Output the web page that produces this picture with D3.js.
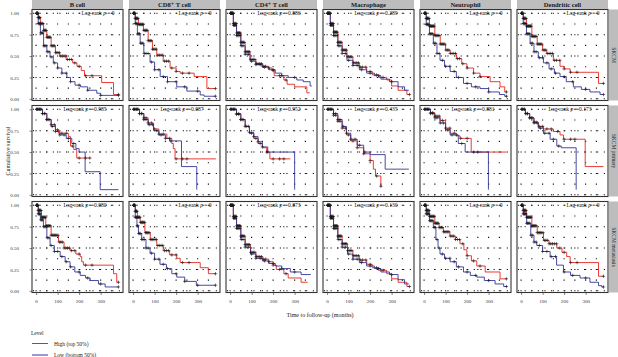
<!DOCTYPE html>
<html>
<head>
<meta charset="utf-8">
<script src="https://cdn.jsdelivr.net/npm/d3@7"></script>
<style>
  body { margin: 0; background: #fff; }
  text { font-family: "Liberation Serif", "DejaVu Serif", serif; }
  .curve { fill: none; stroke-width: 0.9; }
  .censor { stroke: #1a1a1a; stroke-width: 0.6; fill: none; }
  .grid { stroke: #000; stroke-width: 1.1; fill: none; }
  .tick text { fill: #333; font-size: 5px; }
  .tick line { stroke: #333; stroke-width: 0.6; }
</style>
</head>
<body>
<div id="wrapper"></div>
<script>
// 1. Data (step points [months, survival])

const cellTypes = ["B cell", "CD8\u207A T cell", "CD4\u207A T cell", "Macrophage", "Neutrophil", "Dendritic cell"];
const cohorts = ["SKCM", "SKCM primary", "SKCM metastasis"];
const pValues = [
  ["0", "0", "0.886", "0.289", "0", "0"],
  ["0.985", "0.087", "0.952", "0.435", "0.881", "0.173"],
  ["0.080", "0", "0.873", "0.130", "0", "0"],
];
const xTicks = [0, 100, 200, 300];
const yTicks = [0, 0.25, 0.5, 0.75, 1];
const levelNames = ["High (top 50%)", "Low (bottom 50%)"];

// SKCM
const bCell1High = [[0,1],[10,0.95],[20,0.88],[35,0.8],[50,0.72],[70,0.62],[90,0.54],[110,0.5],[140,0.46],[170,0.42],[190,0.38],[210,0.33],[225,0.27],[305,0.19],[360,0.05],[383,0.05]];
const bCell1Low = [[0,1],[10,0.88],[20,0.77],[35,0.62],[50,0.55],[65,0.49],[80,0.42],[100,0.36],[120,0.3],[143,0.25],[160,0.2],[181,0.16],[207,0.14],[240,0.1],[282,0.065],[300,0.04],[383,0.04]];
const cd81High = [[0,1],[10,0.94],[25,0.87],[48,0.8],[70,0.68],[90,0.58],[110,0.51],[140,0.44],[172,0.36],[200,0.32],[219,0.3],[284,0.26],[343,0.12],[383,0.12]];
const cd81Low = [[0,1],[10,0.88],[20,0.76],[33,0.65],[50,0.53],[79,0.43],[100,0.34],[126,0.26],[160,0.2],[203,0.14],[250,0.09],[312,0.045],[330,0.03],[383,0.03]];
const cd41High = [[0,1],[15,0.88],[30,0.77],[50,0.66],[70,0.55],[93,0.46],[120,0.41],[150,0.38],[180,0.36],[195,0.33],[205,0.27],[250,0.22],[265,0.17],[300,0.14],[357,0.07],[370,0.07]];
const cd41Low = [[0,1],[15,0.86],[30,0.74],[50,0.62],[70,0.52],[93,0.44],[120,0.4],[150,0.37],[180,0.34],[210,0.3],[240,0.27],[270,0.25],[310,0.22],[340,0.2],[372,0.15],[380,0.15]];
const mac1High = [[0,1],[15,0.88],[30,0.78],[50,0.66],[70,0.57],[92,0.49],[120,0.42],[150,0.37],[184,0.32],[210,0.28],[240,0.25],[277,0.22],[300,0.15],[330,0.1],[371,0.05],[383,0.05]];
const mac1Low = [[0,1],[15,0.86],[30,0.74],[50,0.62],[70,0.53],[92,0.45],[120,0.39],[150,0.34],[184,0.3],[220,0.27],[250,0.23],[290,0.2],[330,0.14],[360,0.1],[380,0.1]];
const neu1High = [[0,1],[10,0.94],[25,0.85],[50,0.74],[75,0.64],[100,0.57],[121,0.53],[150,0.47],[175,0.41],[199,0.36],[230,0.3],[260,0.26],[307,0.2],[353,0.14],[375,0.08],[385,0.08]];
const neu1Low = [[0,1],[10,0.87],[25,0.76],[43,0.65],[60,0.53],[74,0.45],[95,0.38],[121,0.32],[150,0.25],[183,0.18],[220,0.14],[260,0.12],[300,0.08],[350,0.05],[375,0.03],[385,0.03]];
const den1High = [[0,1],[10,0.94],[25,0.85],[50,0.73],[75,0.64],[100,0.57],[119,0.53],[150,0.45],[181,0.38],[200,0.35],[228,0.31],[360,0.18],[383,0.18]];
const den1Low = [[0,1],[10,0.88],[25,0.76],[42,0.65],[60,0.55],[80,0.48],[104,0.42],[130,0.35],[155,0.3],[181,0.26],[210,0.2],[243,0.14],[280,0.11],[320,0.08],[367,0.05],[383,0.05]];

// SKCM primary
const bCell2High = [[0,1],[30,0.95],[50,0.88],[70,0.82],[90,0.76],[104,0.72],[150,0.68],[160,0.57],[175,0.53],[189,0.43],[251,0.43]];
const bCell2Low = [[0,1],[30,0.95],[50,0.88],[70,0.8],[90,0.74],[110,0.7],[140,0.66],[166,0.6],[185,0.54],[200,0.5],[228,0.27],[298,0.06],[383,0.06]];
const cd82High = [[0,1],[30,0.95],[50,0.9],[70,0.84],[95,0.77],[120,0.71],[157,0.66],[180,0.6],[187,0.54],[195,0.42],[385,0.42]];
const cd82Low = [[0,1],[30,0.95],[50,0.88],[70,0.82],[95,0.75],[120,0.7],[150,0.66],[170,0.63],[225,0.33],[296,0.06]];
const cd42High = [[0,1],[30,0.94],[50,0.88],[70,0.8],[90,0.72],[110,0.66],[130,0.6],[150,0.55],[170,0.5],[185,0.42],[280,0.42]];
const cd42Low = [[0,1],[30,0.95],[50,0.88],[70,0.8],[90,0.73],[110,0.68],[130,0.62],[150,0.56],[175,0.5],[300,0.06]];
const mac2High = [[0,1],[30,0.93],[50,0.86],[70,0.78],[90,0.7],[110,0.63],[140,0.55],[170,0.48],[200,0.4],[215,0.3],[225,0.22],[250,0.1],[255,0.1]];
const mac2Low = [[0,1],[30,0.95],[50,0.88],[70,0.8],[90,0.72],[110,0.65],[140,0.58],[170,0.5],[200,0.47],[270,0.3],[380,0.3]];
const neu2High = [[0,1],[30,0.96],[50,0.92],[74,0.87],[100,0.78],[121,0.72],[150,0.69],[167,0.66],[219,0.5],[383,0.5]];
const neu2Low = [[0,1],[30,0.95],[50,0.9],[74,0.84],[100,0.76],[121,0.7],[159,0.6],[191,0.5],[299,0.06]];
const den2High = [[0,1],[20,0.95],[40,0.9],[60,0.85],[80,0.8],[104,0.77],[150,0.74],[181,0.7],[197,0.65],[298,0.33],[383,0.33]];
const den2Low = [[0,1],[20,0.95],[40,0.9],[60,0.84],[80,0.78],[104,0.72],[135,0.65],[166,0.57],[187,0.55],[256,0.06]];

// SKCM metastasis
const bCell3High = [[0,1],[10,0.94],[25,0.86],[45,0.76],[70,0.65],[104,0.57],[130,0.5],[158,0.47],[185,0.43],[205,0.4],[212,0.34],[220,0.3],[360,0.2],[375,0.1],[383,0.1]];
const bCell3Low = [[0,1],[10,0.9],[20,0.83],[34,0.75],[50,0.62],[65,0.53],[85,0.46],[112,0.4],[135,0.34],[158,0.28],[180,0.22],[205,0.18],[230,0.15],[251,0.12],[290,0.08],[321,0.045],[383,0.045]];
const cd83High = [[0,1],[10,0.93],[20,0.86],[33,0.8],[55,0.68],[80,0.6],[110,0.53],[140,0.47],[170,0.42],[203,0.38],[219,0.33],[312,0.27],[350,0.2],[383,0.2]];
const cd83Low = [[0,1],[10,0.86],[18,0.76],[25,0.67],[40,0.6],[60,0.5],[79,0.44],[100,0.37],[125,0.31],[155,0.26],[180,0.2],[203,0.16],[240,0.11],[294,0.065],[383,0.065]];
const cd43High = [[0,1],[15,0.87],[30,0.76],[50,0.64],[70,0.54],[95,0.45],[120,0.4],[150,0.37],[180,0.34],[200,0.3],[215,0.25],[250,0.2],[270,0.15],[330,0.1],[360,0.1]];
const cd43Low = [[0,1],[15,0.85],[30,0.73],[50,0.6],[70,0.51],[95,0.43],[120,0.38],[150,0.35],[180,0.32],[210,0.29],[240,0.26],[280,0.22],[330,0.19],[375,0.19]];
const mac3High = [[0,1],[15,0.87],[30,0.76],[50,0.64],[70,0.55],[95,0.47],[120,0.41],[150,0.36],[184,0.31],[210,0.27],[240,0.24],[277,0.2],[300,0.14],[330,0.1],[371,0.05],[383,0.05]];
const mac3Low = [[0,1],[15,0.85],[30,0.73],[50,0.6],[70,0.51],[95,0.43],[120,0.37],[150,0.33],[184,0.29],[220,0.26],[250,0.22],[290,0.19],[330,0.13],[360,0.08],[380,0.08]];
const neu3High = [[0,1],[10,0.94],[25,0.87],[50,0.79],[70,0.74],[90,0.69],[120,0.64],[145,0.6],[167,0.55],[185,0.48],[199,0.41],[220,0.35],[245,0.29],[284,0.22],[353,0.14],[383,0.14]];
const neu3Low = [[0,1],[10,0.9],[25,0.82],[43,0.74],[55,0.6],[65,0.5],[74,0.43],[95,0.38],[121,0.34],[150,0.28],[183,0.22],[215,0.18],[245,0.16],[280,0.12],[330,0.08],[370,0.05],[385,0.05]];
const den3High = [[0,1],[10,0.94],[25,0.86],[50,0.76],[75,0.68],[104,0.59],[130,0.55],[166,0.5],[190,0.45],[212,0.4],[228,0.33],[360,0.17],[383,0.17]];
const den3Low = [[0,1],[10,0.9],[26,0.79],[45,0.65],[60,0.57],[73,0.53],[100,0.46],[135,0.4],[165,0.3],[197,0.22],[230,0.18],[274,0.15],[320,0.1],[360,0.06],[375,0.045],[383,0.045]];

// Censoring times (the "+" marks)
const censorHighAll = [2,4,6,8,10,12,14,16,18,20,23,26,29,32,35,38,41,44,47,50,54,58,62,66,70,75,80,85,90,96,102,108,115,122,130,138,146,155,165,180,200,230,260,383];
const censorLowAll = [2,4,6,8,10,13,16,19,22,26,30,35,40,46,52,60,70,85,100,120,140,160,200,240,300,383];
const censorHighPrimary = [3,8,15,22,30,40,50,60,70,85,100,120,140,170,200,230,250];
const censorLowPrimary = [3,8,15,22,30,40,50,60,75,90,110,130,150,175];

async function drawChart() {

  const highCurves = [
    [bCell1High, cd81High, cd41High, mac1High, neu1High, den1High],
    [bCell2High, cd82High, cd42High, mac2High, neu2High, den2High],
    [bCell3High, cd83High, cd43High, mac3High, neu3High, den3High],
  ];
  const lowCurves = [
    [bCell1Low, cd81Low, cd41Low, mac1Low, neu1Low, den1Low],
    [bCell2Low, cd82Low, cd42Low, mac2Low, neu2Low, den2Low],
    [bCell3Low, cd83Low, cd43Low, mac3Low, neu3Low, den3Low],
  ];
  const censorHigh = [censorHighAll, censorHighPrimary, censorHighAll];
  const censorLow = [censorLowAll, censorLowPrimary, censorLowAll];
  const colors = { high: "#e8261e", low: "#34359a" };

  // 2. Dimensions

  const dimensions = {
    width: 618,
    height: 357,
    left: 32,
    top: 9.5,
    panelWidth: 91,
    panelHeight: 91,
    colStep: 97,
    rowStep: 96,
  };

  // 3. Canvas

  const wrapper = d3.select("#wrapper")
    .append("svg")
      .attr("width", dimensions.width)
      .attr("height", dimensions.height);

  // 4. Scales (same for every panel)

  const xScale = d3.scaleLinear()
    .domain([-19, 404])
    .range([0, dimensions.panelWidth]);
  const yScale = d3.scaleLinear()
    .domain([0, 1])
    .range([89.3, 3.8]);

  const stepLine = d3.line()
    .x(d => xScale(d[0]))
    .y(d => yScale(d[1]))
    .curve(d3.curveStepAfter);

  // survival at time t for a step curve
  const survivalAt = (curve, t) => {
    let s = curve[0][1];
    curve.forEach(d => { if (d[0] <= t) s = d[1]; });
    return s;
  };

  const minorX = [50, 150, 250, 350];
  const crossPath = "M-1.7,0H1.7M0,-1.7V1.7";

  // 5. Panels

  cohorts.forEach((cohort, r) => {
    cellTypes.forEach((cell, c) => {
      const panel = wrapper.append("g")
          .attr("transform", `translate(${dimensions.left + c * dimensions.colStep}, ${dimensions.top + r * dimensions.rowStep})`);

      // dotted grid
      panel.selectAll(".hgrid")
        .data(yTicks)
        .join("line")
          .attr("class", "grid")
          .attr("x1", 1).attr("x2", dimensions.panelWidth)
          .attr("y1", d => yScale(d)).attr("y2", d => yScale(d))
          .attr("stroke-dasharray", "1.1 5.5");
      panel.selectAll(".vgrid")
        .data([...xTicks, ...minorX])
        .join("line")
          .attr("class", "grid")
          .attr("x1", d => xScale(d)).attr("x2", d => xScale(d))
          .attr("y1", yScale(0) + 0.55).attr("y2", yScale(1) - 0.6)
          .attr("stroke-dasharray", "1.1 " + (85.5 / 8 - 1.1));

      // curves
      const curves = [
        { key: "high", data: highCurves[r][c], censor: censorHigh[r] },
        { key: "low", data: lowCurves[r][c], censor: censorLow[r] },
      ];
      curves.forEach(curve => {
        panel.append("path")
            .attr("class", "curve")
            .attr("stroke", colors[curve.key])
            .attr("d", stepLine(curve.data));
      });
      curves.forEach(curve => {
        const end = curve.data[curve.data.length - 1][0];
        panel.selectAll(null)
          .data(curve.censor.filter(t => t <= end))
          .join("path")
            .attr("class", "censor")
            .attr("d", crossPath)
            .attr("transform", t => `translate(${xScale(t)}, ${yScale(survivalAt(curve.data, t))})`);
      });

      // border
      panel.append("rect")
          .attr("width", dimensions.panelWidth)
          .attr("height", dimensions.panelHeight)
          .attr("fill", "none")
          .attr("stroke", "#333")
          .attr("stroke-width", 1.1);

      // log-rank annotation
      const p = pValues[r][c];
      const label = panel.append("text")
          .attr("x", p === "0" ? 66 : 53)
          .attr("y", yScale(1) + 2)
          .attr("text-anchor", "middle")
          .style("font-size", "5.5px")
          .attr("fill", "#111");
      label.append("tspan").text("Log-rank ");
      label.append("tspan").style("font-style", "italic").text("p");
      label.append("tspan").text(" = " + p);

      // axes
      if (c === 0) {
        panel.append("g")
            .call(d3.axisLeft(yScale).tickValues(yTicks).tickFormat(d3.format(".2f")).tickSize(2.5).tickPadding(10.5))
            .call(g => g.select(".domain").remove());
      }
      if (r === cohorts.length - 1) {
        panel.append("g")
            .attr("transform", `translate(0, ${dimensions.panelHeight})`)
            .call(d3.axisBottom(xScale).tickValues(xTicks).tickSize(2.5).tickPadding(4))
            .call(g => g.select(".domain").remove());
      }

      // top strips
      if (r === 0) {
        panel.append("rect")
            .attr("y", -dimensions.top - 1)
            .attr("width", dimensions.panelWidth)
            .attr("height", dimensions.top + 0.5)
            .attr("fill", "#bdbdbd");
        panel.append("text")
            .attr("x", dimensions.panelWidth / 2)
            .attr("y", -3)
            .attr("text-anchor", "middle")
            .style("font-size", "6.5px")
            .style("font-weight", "bold")
            .attr("fill", "#1a1a1a")
            .text(cell);
      }
    });

    // right strip
    const stripTop = dimensions.top + r * dimensions.rowStep;
    const stripX = dimensions.left + 5 * dimensions.colStep + dimensions.panelWidth + 1;
    wrapper.append("rect")
        .attr("x", stripX)
        .attr("y", stripTop)
        .attr("width", 12)
        .attr("height", dimensions.panelHeight)
        .attr("fill", "#bdbdbd");
    wrapper.append("text")
        .attr("transform", `translate(${stripX + 3.2}, ${stripTop + dimensions.panelHeight / 2}) rotate(90)`)
        .attr("text-anchor", "middle")
        .style("font-size", "5.5px")
        .attr("fill", "#1a1a1a")
        .text(cohort);
  });

  // 6. Peripherals

  wrapper.append("text")
      .attr("transform", `translate(10, 151) rotate(-90)`)
      .attr("text-anchor", "middle")
      .style("font-size", "6px")
      .attr("fill", "#1a1a1a")
      .text("Cumulative survival");

  wrapper.append("text")
      .attr("x", 320)
      .attr("y", 317)
      .attr("text-anchor", "middle")
      .style("font-size", "6px")
      .attr("fill", "#1a1a1a")
      .text("Time to follow-up (months)");

  const legend = wrapper.append("g");
  legend.append("text")
      .attr("x", 31)
      .attr("y", 334.5)
      .style("font-size", "5.5px")
      .attr("fill", "#1a1a1a")
      .text("Level");
  legend.selectAll(".legend-line")
    .data(levelNames)
    .join("line")
      .attr("x1", 32).attr("x2", 48)
      .attr("y1", (_d, i) => 343.5 + i * 11.5)
      .attr("y2", (_d, i) => 343.5 + i * 11.5)
      .attr("stroke", (_d, i) => i === 0 ? colors.high : colors.low)
      .attr("stroke-width", 1);
  legend.selectAll(".legend-label")
    .data(levelNames)
    .join("text")
      .attr("x", 54)
      .attr("y", (_d, i) => 345.5 + i * 11.5)
      .style("font-size", "5.5px")
      .attr("fill", "#1a1a1a")
      .text(d => d);
}
drawChart();
</script>
</body>
</html>
